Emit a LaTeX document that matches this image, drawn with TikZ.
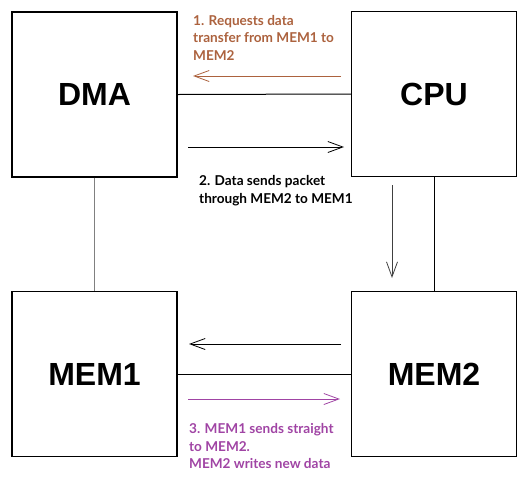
\documentclass[tikz,border=0pt]{standalone}
\usepackage{fontspec}
\newfontfamily\boxfont{Liberation Sans}
\newfontfamily\notefont{Lato}
\usetikzlibrary{arrows.meta}
\definecolor{stepone}{RGB}{172,98,62}
\definecolor{stepthree}{RGB}{160,68,164}
\tikzset{
  unit/.style={draw=black, line width=1.4pt, minimum width=165pt, minimum height=165pt, inner sep=0pt,
    font=\boxfont\bfseries\fontsize{32}{36}\selectfont},
  link/.style={line width=1pt},
  flow/.style={line width=1pt, -{Straight Barb[length=15pt,width=11pt,line width=0.8pt]}},
  note/.style={anchor=north west, inner sep=0pt, align=left,
    font=\notefont\bfseries\fontsize{13.6}{17.5}\selectfont}
}
\begin{document}
\begin{tikzpicture}[x=1pt,y=-1pt]
\useasboundingbox (0,0) rectangle (529,480);
\node[unit] (dma) at (94.5,94.5) {DMA};
\node[unit] (cpu) at (434,94) {CPU};
\node[unit] (mem1) at (94.5,374) {MEM1};
\node[unit] (mem2) at (434,374) {MEM2};
\draw[link] (dma.east) -- (cpu.west);
\draw[link, draw=gray, line width=1.3pt] (dma.south) -- (mem1.north);
\draw[link] (cpu.south) -- (mem2.north);
\draw[link] (mem1.east) -- (mem2.west);
% arrow ends
\coordinate (a1s) at (341,76); \coordinate (a1e) at (193,76);
\coordinate (a2s) at (188,147); \coordinate (a2e) at (344,147);
\coordinate (a3s) at (392,185); \coordinate (a3e) at (392,278);
\coordinate (a4s) at (341,344); \coordinate (a4e) at (189,344);
\coordinate (a5s) at (188,399); \coordinate (a5e) at (340,399);
\draw[flow, draw=stepone] (a1s) -- (a1e);
\draw[flow] (a2s) -- (a2e);
\draw[flow, draw=black!75] (a3s) -- (a3e);
\draw[flow] (a4s) -- (a4e);
\draw[flow, draw=stepthree] (a5s) -- (a5e);
\node[note, text=stepone] (t1) at (193,15) {1. Requests data\\transfer from MEM1 to\\MEM2};
\node[note, text=black] (t2) at (199,175.5) {2. Data sends packet\\through MEM2 to MEM1};
\node[note, text=stepthree] (t3) at (189,423.5) {3. MEM1 sends straight\\to MEM2.\\MEM2 writes new data};
\end{tikzpicture}
\end{document}
